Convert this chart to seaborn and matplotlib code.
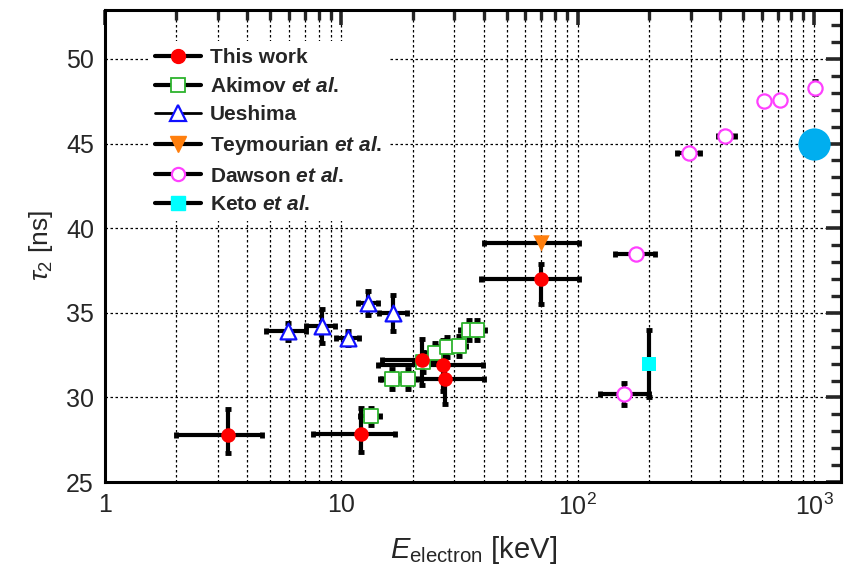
import numpy as np
import matplotlib
matplotlib.use("Agg")
import matplotlib.pyplot as plt
from matplotlib.lines import Line2D
from matplotlib.ticker import LogLocator, MultipleLocator, NullFormatter
import seaborn as sns
import pandas as pd

# ---- data: electron energy [keV] and triplet lifetime tau_2 [ns] ----
this_E = [3.3, 12.1, 21.9, 26.9, 27.5, 70.0]
this_tau = [27.8, 27.85, 32.2, 31.9, 31.1, 37.0]
this_E_lo = [2.0, 7.6, 14.8, 14.3, 14.6, 39.0]
this_E_hi = [4.6, 16.8, 26.5, 39.8, 40.2, 101.0]
this_tau_lo = [26.7, 26.8, 30.75, 30.4, 29.6, 35.5]
this_tau_hi = [29.3, 29.35, 33.45, 33.4, 32.6, 37.9]

akimov_E = [13.3, 16.3, 19.2, 22.1, 24.9, 27.9, 31.3, 34.5, 37.4]
akimov_tau = [28.9, 31.1, 31.1, 32.1, 32.6, 33.0, 33.05, 34.0, 34.0]
akimov_E_err = [1.3, 1.4, 1.6, 1.8, 2.0, 2.2, 2.5, 2.8, 3.0]
akimov_tau_err = [0.5, 0.6, 0.6, 0.6, 0.6, 0.6, 0.6, 0.6, 0.6]

ueshima_E = [5.97, 8.3, 10.7, 13.0, 16.6]
ueshima_tau = [33.9, 34.2, 33.5, 35.6, 35.0]
ueshima_E_lo = [4.8, 7.1, 9.5, 11.8, 14.4]
ueshima_E_hi = [7.1, 9.4, 11.9, 14.3, 19.0]
ueshima_tau_err = [0.5, 1.0, 0.4, 0.7, 1.05]

teymourian_E = [70.0]
teymourian_tau = [39.1]
teymourian_E_lo = [40.0]
teymourian_E_hi = [101.0]

dawson_E = [157, 177, 296, 421, 615, 714, 1010]
dawson_tau = [30.2, 38.5, 44.45, 45.45, 47.5, 47.6, 48.3]
dawson_E_lo = [124, 144, 262, 391, 615, 714, 1010]
dawson_E_hi = [200, 211, 330, 461, 615, 714, 1010]
dawson_tau_err = [0.65, 0.0, 0.0, 0.0, 0.0, 0.0, 0.4]

keto_E = [200.0]
keto_tau = [32.0]
keto_tau_err = [2.0]

mev_E = [1000.0]
mev_tau = [45.0]

legend_labels = ["This work", r"Akimov $\mathbfit{et\ al}$.", "Ueshima",
                 r"Teymourian $\mathbfit{et\ al}$.", r"Dawson $\mathbfit{et\ al}$.",
                 r"Keto $\mathbfit{et\ al}$."]

# ---- style ----
sns.set_theme(style="white")
plt.rcParams["font.family"] = ["Liberation Sans", "DejaVu Sans"]
plt.rcParams["mathtext.fontset"] = "custom"
plt.rcParams["mathtext.rm"] = "Liberation Sans"
plt.rcParams["mathtext.it"] = "Liberation Sans:italic"
plt.rcParams["mathtext.bf"] = "Liberation Sans:bold"
plt.rcParams["mathtext.bfit"] = "Liberation Sans:italic:bold"

fig = plt.figure(figsize=(8.54, 5.76), dpi=100)
ax = fig.add_axes([0.123, 0.163, 0.862, 0.820])

eb = dict(fmt="none", ecolor="black", elinewidth=3.0, capsize=2.5, capthick=3.5, zorder=2)


def asym(center, lo, hi):
    c = np.asarray(center, float)
    return np.vstack([c - np.asarray(lo, float), np.asarray(hi, float) - c])


ax.errorbar(this_E, this_tau, xerr=asym(this_E, this_E_lo, this_E_hi),
            yerr=asym(this_tau, this_tau_lo, this_tau_hi), **eb)
ax.errorbar(akimov_E, akimov_tau, xerr=akimov_E_err, yerr=akimov_tau_err, **eb)
ax.errorbar(ueshima_E, ueshima_tau, xerr=asym(ueshima_E, ueshima_E_lo, ueshima_E_hi),
            yerr=ueshima_tau_err, **eb)
ax.errorbar(teymourian_E, teymourian_tau,
            xerr=asym(teymourian_E, teymourian_E_lo, teymourian_E_hi), **eb)
ax.errorbar(dawson_E, dawson_tau, xerr=asym(dawson_E, dawson_E_lo, dawson_E_hi),
            yerr=dawson_tau_err, **eb)
ax.errorbar(keto_E, keto_tau, yerr=keto_tau_err, **eb)


def pts(E, tau):
    return pd.DataFrame({"E": E, "tau": tau})


# markers on top of the bars
sns.scatterplot(data=pts(akimov_E, akimov_tau), x="E", y="tau", ax=ax, marker="s", s=95,
                facecolor="white", edgecolor="#2DB32D", linewidth=1.3, zorder=3)
sns.scatterplot(data=pts(ueshima_E, ueshima_tau), x="E", y="tau", ax=ax, marker="^", s=130,
                facecolor="white", edgecolor="#1010FF", linewidth=1.6, zorder=3)
sns.scatterplot(data=pts(teymourian_E, teymourian_tau), x="E", y="tau", ax=ax, marker="v", s=140,
                color="#FF7F0E", edgecolor="#FF7F0E", linewidth=0, zorder=3)
sns.scatterplot(data=pts(dawson_E, dawson_tau), x="E", y="tau", ax=ax, marker="o", s=105,
                facecolor="white", edgecolor="#FF40FF", linewidth=1.6, zorder=3)
sns.scatterplot(data=pts(keto_E, keto_tau), x="E", y="tau", ax=ax, marker="s", s=100,
                color="#00FFFF", edgecolor="#00FFFF", linewidth=0, zorder=3)
sns.scatterplot(data=pts(mev_E, mev_tau), x="E", y="tau", ax=ax, marker="o", s=540,
                color="#00AEEF", edgecolor="#00AEEF", linewidth=0, zorder=3)
sns.scatterplot(data=pts(this_E, this_tau), x="E", y="tau", ax=ax, marker="o", s=110,
                color="#FF0000", edgecolor="#FF0000", linewidth=0, zorder=4)

# ---- axes ----
ax.set_xscale("log")
ax.set_xlim(1, 1300)
ax.set_ylim(25, 52.9)

ax.set_xticks([1, 10, 100, 1000])
ax.set_xticklabels(["1", "10", r"$10^2$", r"$10^3$"])
ax.xaxis.set_minor_locator(LogLocator(base=10, subs=np.arange(2, 10), numticks=20))
ax.xaxis.set_minor_formatter(NullFormatter())
ax.yaxis.set_major_locator(MultipleLocator(5))
ax.yaxis.set_minor_locator(MultipleLocator(1))

ax.tick_params(which="major", direction="in", length=11, width=2.6, labelsize=18,
               top=True, right=True, pad=8)
ax.tick_params(which="minor", direction="in", length=7, width=2.4, top=True, right=True)

ax.grid(True, which="major", axis="both", color="black", linestyle=(0, (2, 2)), linewidth=0.9)
ax.grid(True, which="minor", axis="x", color="black", linestyle=(0, (2, 2)), linewidth=0.9)
ax.set_axisbelow(True)

for sp in ax.spines.values():
    sp.set_linewidth(2.2)
    sp.set_color("black")

ax.set_xlabel(r"$E_{\mathrm{electron}}$ [keV]", fontsize=21, labelpad=10)
ax.set_ylabel(r"$\tau_2$ [ns]", fontsize=19, labelpad=8)

# ---- legend ----
handles = [
    Line2D([], [], color="black", lw=3, marker="o", ms=10, mfc="#FF0000", mec="#FF0000"),
    Line2D([], [], color="black", lw=3, marker="s", ms=9.5, mfc="white", mec="#2DB32D", mew=1.3),
    Line2D([], [], color="black", lw=2, marker="^", ms=11, mfc="white", mec="#1010FF", mew=1.6),
    Line2D([], [], color="black", lw=3, marker="v", ms=11, mfc="#FF7F0E", mec="#FF7F0E"),
    Line2D([], [], color="black", lw=3, marker="o", ms=9.5, mfc="white", mec="#FF40FF", mew=1.6),
    Line2D([], [], color="black", lw=3, marker="s", ms=9.5, mfc="#00FFFF", mec="#00FFFF"),
]
leg = ax.legend(handles, legend_labels, loc="upper left", bbox_to_anchor=(0.058, 0.934),
                borderaxespad=0, borderpad=0.35, frameon=True, fancybox=False,
                facecolor="white", edgecolor="none", framealpha=1,
                handlelength=2.2, handletextpad=0.45, labelspacing=0.46,
                prop={"weight": "bold", "size": 15})
leg.set_zorder(5)

fig.savefig("out.png", dpi=100)
